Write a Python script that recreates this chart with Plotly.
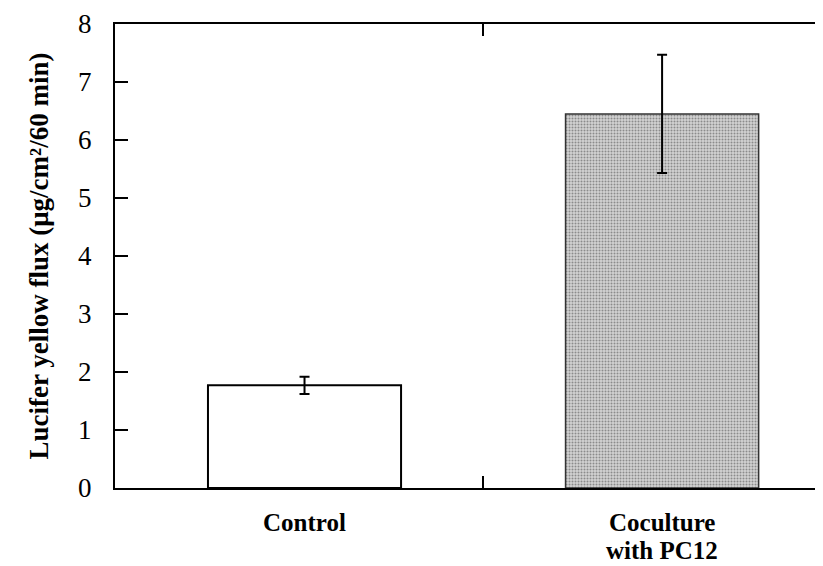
import plotly.graph_objects as go

categories = ["Control", "Coculture", "with PC12"]
cat_lines = [["Control"], ["Coculture", "with PC12"]]
values = [1.77, 6.45]
errors = [0.15, 1.02]
yticks = [0, 1, 2, 3, 4, 5, 6, 7, 8]
font = "Liberation Serif"
xpos = list(range(len(values)))

fig = go.Figure()
fig.add_trace(go.Bar(
    x=xpos, y=values,
    width=0.54,
    marker=dict(
        color=["white", "#d2d2d2"],
        line=dict(color=["black", "#333333"], width=[2, 1.5]),
        pattern=dict(shape=["", "."], fgcolor="#9a9a9a", bgcolor="#dcdcdc", size=3, solidity=0.35),
    ),
    error_y=dict(type="data", array=errors, color="black", thickness=2, width=5),
    showlegend=False,
))
fig.add_trace(go.Scatter(x=[0.5], y=[0], xaxis="x2", yaxis="y2", mode="markers",
                         marker=dict(opacity=0), showlegend=False, hoverinfo="skip"))

# category labels (line height as in the reference)
for xi, lines in zip(xpos, cat_lines):
    for li, txt in enumerate(lines):
        fig.add_annotation(x=xi, xref="x", y=0, yref="paper", yanchor="top",
                           text="<b>%s</b>" % txt, showarrow=False,
                           yshift=-19 - 28 * li,
                           font=dict(family=font, size=25, color="black"))

fig.update_layout(
    width=815, height=558,
    margin=dict(l=107, r=0, t=16, b=78),
    plot_bgcolor="white", paper_bgcolor="white",
    font=dict(family=font, color="black", size=20),
    xaxis=dict(
        range=[-0.53, 1.45], automargin=False,
        showticklabels=False, ticks="",
        showline=True, linecolor="black", linewidth=2,
        showgrid=False, zeroline=False,
    ),
    xaxis2=dict(
        overlaying="x", matches="x", range=[-0.53, 1.45], automargin=False,
        tickvals=[0.5], ticks="inside", ticklen=12, tickwidth=2, tickcolor="black",
        showticklabels=False, mirror="ticks", showline=True, linecolor="black", linewidth=2,
        showgrid=False, zeroline=False, side="bottom",
    ),
    yaxis=dict(
        range=[0, 8], tickvals=yticks, automargin=False,
        ticks="inside", ticklen=13, tickwidth=1.5, tickcolor="black",
        showline=True, linecolor="black", linewidth=2,
        showgrid=False, zeroline=False,
        ticklabelstandoff=16,
        tickfont=dict(family=font, size=27),
        title=dict(text="<b>Lucifer yellow flux (μg/cm²/60 min)</b>",
                   font=dict(family=font, size=27), standoff=22),
    ),
    yaxis2=dict(
        overlaying="y", matches="y", side="right", range=[0, 8], tickvals=yticks,
        automargin=False, ticks="inside", ticklen=3, tickwidth=2, tickcolor="black",
        showticklabels=False, showline=False, showgrid=False, zeroline=False,
    ),
)

fig.write_html("out.html")
